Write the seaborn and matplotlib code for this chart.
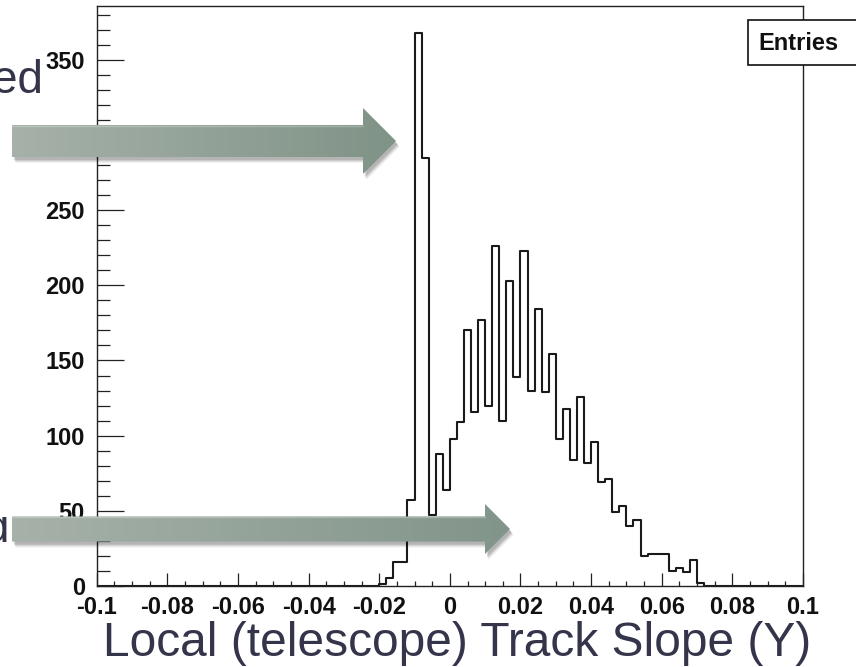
import numpy as np
import pandas as pd
import matplotlib
matplotlib.use("Agg")
import matplotlib.pyplot as plt
import seaborn as sns
from matplotlib.patches import Polygon, Rectangle
from matplotlib.ticker import MultipleLocator, FixedLocator, FixedFormatter
from matplotlib import font_manager as fm
from matplotlib.transforms import Bbox

# ---------------- data ----------------
bin_width = 0.002
x_range = (-0.1, 0.1)
first_filled_bin = -0.020          # left edge of first non-empty bin
counts = [1, 5, 16, 16, 57, 368, 285, 47, 88, 64,
          98, 109, 170, 116, 177, 120, 226, 110, 203, 139,
          223, 130, 184, 129, 154, 98, 118, 84, 126, 82,
          96, 69, 71, 49, 53, 40, 44, 20, 21, 21,
          21, 10, 12, 9, 17, 2]
x_tick_values = [-0.1, -0.08, -0.06, -0.04, -0.02, 0, 0.02, 0.04, 0.06, 0.08, 0.1]
x_tick_labels = ["-0.1", "-0.08", "-0.06", "-0.04", "-0.02", "0",
                 "0.02", "0.04", "0.06", "0.08", "0.1"]
y_tick_values = [0, 50, 100, 150, 200, 250, 300, 350]
y_tick_labels = ["0", "50", "100", "150", "200", "250", "300", "350"]
x_label = "Local (telescope) Track Slope (Y)"
stats_label = "Entries"
y_max = 386

# ---------------- build table ----------------
centers = first_filled_bin + bin_width * (np.arange(len(counts)) + 0.5)
df = pd.DataFrame({"slope": centers, "n": counts})

# ---------------- figure ----------------
sns.set_style("white")
names = {f.name for f in fm.fontManager.ttflist}
narrow = "Liberation Sans Narrow" if "Liberation Sans Narrow" in names else "Liberation Sans"
plt.rcParams["font.family"] = ["Liberation Sans", "DejaVu Sans"]

W, H = 856, 667
fig = plt.figure(figsize=(W / 100, H / 100), dpi=100)
fig.patch.set_facecolor("white")

ax_l, ax_r, ax_t, ax_b = 96.7, 803.0, 5.7, 586.0
ax = fig.add_axes([ax_l / W, 1 - ax_b / H, (ax_r - ax_l) / W, (ax_b - ax_t) / H])
ax.set_facecolor("white")

sns.histplot(data=df, x="slope", weights="n", binwidth=bin_width, binrange=x_range,
             element="step", fill=False, color="#1a1a1a", linewidth=1.5, ax=ax)

ax.set_xlim(*x_range)
ax.set_ylim(0, y_max)
ax.set_xlabel("")
ax.set_ylabel("")
for s in ax.spines.values():
    s.set_visible(True)
    s.set_color("#222222")
    s.set_linewidth(1.0)

ax.xaxis.set_major_locator(FixedLocator(x_tick_values))
ax.xaxis.set_major_formatter(FixedFormatter(x_tick_labels))
ax.xaxis.set_minor_locator(MultipleLocator(0.005))
ax.yaxis.set_major_locator(FixedLocator(y_tick_values))
ax.yaxis.set_major_formatter(FixedFormatter(y_tick_labels))
ax.yaxis.set_minor_locator(MultipleLocator(10))

ax.tick_params(axis="both", which="both", direction="in", top=False, right=False,
               bottom=True, left=True, color="#222222", width=0.9)
ax.tick_params(axis="y", which="major", length=19.5, pad=8.5)
ax.tick_params(axis="y", which="minor", length=9.5)
ax.tick_params(axis="x", which="major", length=9.2, pad=7.5)
ax.tick_params(axis="x", which="minor", length=3.8)
for lab in ax.get_xticklabels() + ax.get_yticklabels():
    lab.set_fontsize(17)
    lab.set_fontweight("bold")
    lab.set_color("#111111")

# ---------------- overlay (slide decorations) ----------------
ov = fig.add_axes([0, 0, 1, 1], zorder=10)
ov.set_axis_off()
ov.patch.set_alpha(0)


def draw_arrow(axo, x0, xh, xt, yc, hb, hh, c0, c1):
    pts = [(x0, yc - hb), (xh, yc - hb), (xh, yc - hh), (xt, yc),
           (xh, yc + hh), (xh, yc + hb), (x0, yc + hb)]
    # soft shadow
    for d, a in [(6, 0.05), (5, 0.07), (4, 0.09), (3, 0.11)]:
        sp = [(px + d * 0.6, py + d) for px, py in pts]
        axo.add_patch(Polygon(sp, closed=True, fc="black", ec="none", alpha=a, zorder=1))
    poly = Polygon(pts, closed=True, fc="none", ec="none", zorder=2)
    axo.add_patch(poly)
    g = np.linspace(0, 1, 256)[None, :, None]
    img = np.array(c0)[None, None, :] / 255 * (1 - g) + np.array(c1)[None, None, :] / 255 * g
    im = axo.imshow(img, extent=(x0, xt, yc + hh, yc - hh), aspect="auto",
                    interpolation="bilinear", zorder=2)
    im.set_clip_path(poly)
    # light bevel on top edge
    axo.plot([x0, xh], [yc - hb + 1.0, yc - hb + 1.0], color="white", alpha=0.25,
             lw=1.0, zorder=3)


draw_arrow(ov, 12, 363, 396, 141, 16, 33, (166, 177, 169), (128, 147, 135))
draw_arrow(ov, 12, 485, 510, 529, 12.6, 25, (166, 177, 169), (130, 149, 138))

# partial slide text on the left
ov.text(43, 93, "ed", fontsize=33, color="#34354a", ha="right", va="baseline",
        family=["Liberation Sans", "DejaVu Sans"], zorder=0)
td = ov.text(9, 542, "d", fontsize=33, color="#34354a", ha="right", va="baseline",
             family=["Liberation Sans", "DejaVu Sans"], zorder=0)

# x axis title (slide text)
ov.text(457, 656, x_label, fontsize=34.5, color="#34354a", ha="center", va="baseline",
        family=[narrow, "Liberation Sans", "DejaVu Sans"], zorder=5)

# stats box (cut at right edge)
ov.add_patch(Rectangle((748, 20), 140, 45, fc="white", ec="#111111", lw=1.2, zorder=6,
                       clip_on=False))
ov.text(758, 43, stats_label, fontsize=17, fontweight="bold", color="#111111",
        ha="left", va="center", zorder=7)

ov.set_xlim(0, W)
ov.set_ylim(H, 0)

# clip the lower-left partial letter to the visible strip
fig.canvas.draw()
tr = ov.transData
p0 = tr.transform((0, 516.5))
p1 = tr.transform((12, 560))
td.set_clip_box(Bbox.from_extents(min(p0[0], p1[0]), min(p0[1], p1[1]),
                                  max(p0[0], p1[0]), max(p0[1], p1[1])))
td.set_clip_on(True)

fig.savefig("out.png", dpi=100, facecolor="white")
